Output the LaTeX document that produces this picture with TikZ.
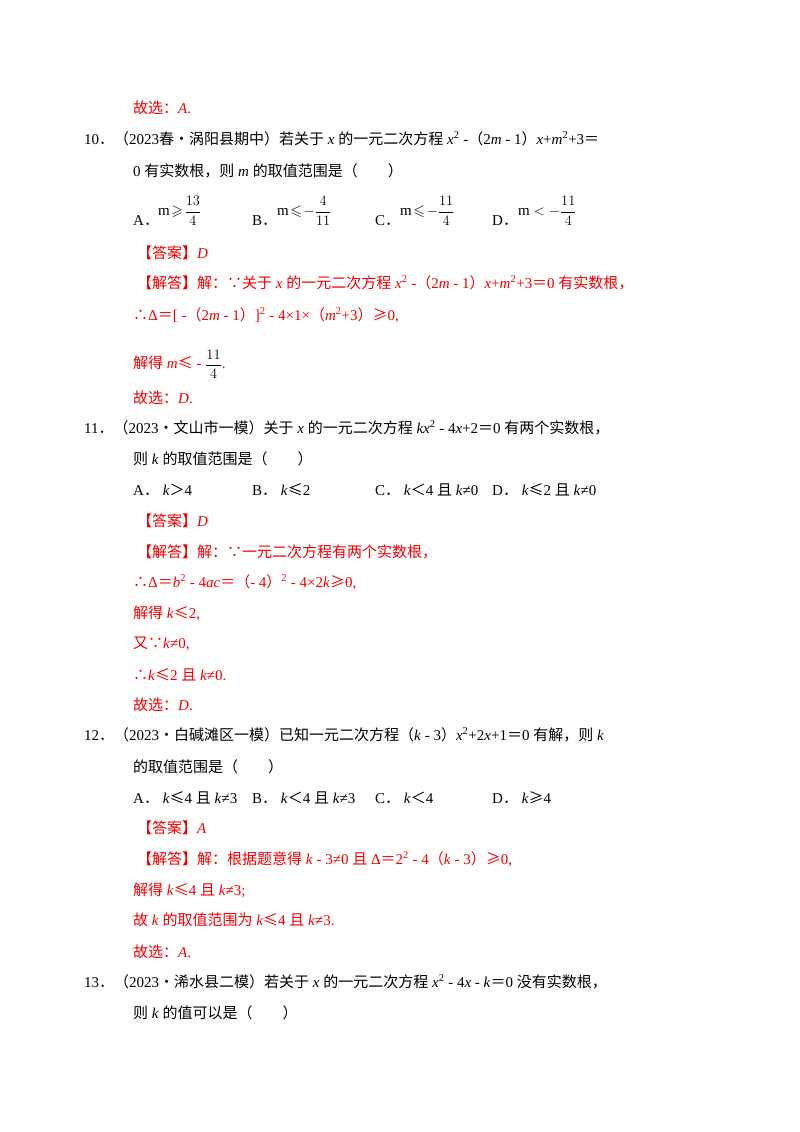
\documentclass[tikz,border=0pt]{standalone}
\usepackage{amsmath,amssymb}
\usepackage{fontspec}
\setmainfont{Liberation Serif}
\newfontfamily\cjk{Noto Sans CJK SC}
\newcommand\zh[1]{{\cjk #1}}
\newcommand\vi[1]{\textit{#1}}
\newcommand\sq{\textsuperscript{2}}
\newcommand\pd{\zh{．}}
\definecolor{ansred}{RGB}{240,0,0}
\begin{document}
\begin{tikzpicture}[x=1pt,y=-1pt,
  txt/.style={anchor=base west,inner sep=0pt,font=\fontsize{15}{17}\selectfont},
  red/.style={txt,text=ansred}]
\useasboundingbox (0,0) rectangle (800,1132);
\node[red] (a0) at (133,113) {\zh{故选：}\vi{A}.};
% Q10
\node[txt] (q10a) at (84,144) {10\pd\zh{（}2023\zh{春•涡阳县期中）若关于} \vi{x} \zh{的一元二次方程} \vi{x}\sq\ -\zh{（}2\vi{m} - 1\zh{）}\vi{x}+\vi{m}\sq+3\zh{＝}};
\node[txt] (q10b) at (133,176) {0 \zh{有实数根，则} \vi{m} \zh{的取值范围是（\quad\quad ）}};
\node[txt] (o10a) at (133,225) {A\pd};
\node[txt] (o10b) at (252,225) {B\pd};
\node[txt] (o10c) at (375,225) {C\pd};
\node[txt] (o10d) at (492,225) {D\pd};
\node[txt,anchor=west] (f10a) at (158,211) {$\mathrm{m}\!\geqslant\!\dfrac{13}{4}$};
\node[txt,anchor=west] (f10b) at (277,211) {$\mathrm{m}\!\leqslant\!-\dfrac{4}{11}$};
\node[txt,anchor=west] (f10c) at (400,211) {$\mathrm{m}\!\leqslant\!-\dfrac{11}{4}$};
\node[txt,anchor=west] (f10d) at (518,211) {$\mathrm{m}<-\dfrac{11}{4}$};
\node[red] (ans10) at (137,258) {\zh{【答案】}\vi{D}};
\node[red] (sol10) at (137,288) {\zh{【解答】解：∵关于} \vi{x} \zh{的一元二次方程} \vi{x}\sq\ -\zh{（}2\vi{m} - 1\zh{）}\vi{x}+\vi{m}\sq+3\zh{＝}0 \zh{有实数根，}};
\node[red] (d10) at (133,320) {\zh{∴}Δ\zh{＝}[ -\zh{（}2\vi{m} - 1\zh{）}]\sq\ - 4×1×\zh{（}\vi{m}\sq+3\zh{）≥}0,};
\node[red] (r10) at (133,368) {\zh{解得} \vi{m}\zh{≤} - \raisebox{-1pt}{\color{black}$\dfrac{11}{4}$}.};
\node[red] (c10) at (133,403) {\zh{故选：}\vi{D}.};
% Q11
\node[txt] (q11a) at (84,433) {11\pd\zh{（}2023\zh{•文山市一模）关于} \vi{x} \zh{的一元二次方程} \vi{kx}\sq\ - 4\vi{x}+2\zh{＝}0 \zh{有两个实数根，}};
\node[txt] (q11b) at (133,464) {\zh{则} \vi{k} \zh{的取值范围是（\quad\quad ）}};
\node[txt] (o11a) at (133,495) {A\pd\ \vi{k}\zh{＞}4};
\node[txt] (o11b) at (252,495) {B\pd\ \vi{k}\zh{≤}2};
\node[txt] (o11c) at (375,495) {C\pd\ \vi{k}\zh{＜}4 \zh{且} \vi{k}≠0};
\node[txt] (o11d) at (492,495) {D\pd\ \vi{k}\zh{≤}2 \zh{且} \vi{k}≠0};
\node[red] (ans11) at (137,526) {\zh{【答案】}\vi{D}};
\node[red] (sol11) at (137,557) {\zh{【解答】解：∵一元二次方程有两个实数根，}};
\node[red] (d11) at (133,587) {\zh{∴}Δ\zh{＝}\vi{b}\sq\ - 4\vi{ac}\zh{＝（}- 4\zh{）}\sq\ - 4×2\vi{k}\zh{≥}0,};
\node[red] (r11) at (133,618) {\zh{解得} \vi{k}\zh{≤}2,};
\node[red] (y11) at (133,648) {\zh{又∵}\vi{k}≠0,};
\node[red] (t11) at (133,680) {\zh{∴}\vi{k}\zh{≤}2 \zh{且} \vi{k}≠0.};
\node[red] (c11) at (133,710) {\zh{故选：}\vi{D}.};
% Q12
\node[txt] (q12a) at (84,740) {12\pd\zh{（}2023\zh{•白碱滩区一模）已知一元二次方程（}\vi{k} - 3\zh{）}\vi{x}\sq+2\vi{x}+1\zh{＝}0 \zh{有解，则} \vi{k}};
\node[txt] (q12b) at (133,772) {\zh{的取值范围是（\quad\quad ）}};
\node[txt] (o12a) at (133,803) {A\pd\ \vi{k}\zh{≤}4 \zh{且} \vi{k}≠3};
\node[txt] (o12b) at (252,803) {B\pd\ \vi{k}\zh{＜}4 \zh{且} \vi{k}≠3};
\node[txt] (o12c) at (375,803) {C\pd\ \vi{k}\zh{＜}4};
\node[txt] (o12d) at (492,803) {D\pd\ \vi{k}\zh{≥}4};
\node[red] (ans12) at (137,833) {\zh{【答案】}\vi{A}};
\node[red] (sol12) at (137,864) {\zh{【解答】解：根据题意得} \vi{k} - 3≠0 \zh{且} Δ\zh{＝}2\sq\ - 4\zh{（}\vi{k} - 3\zh{）≥}0,};
\node[red] (r12) at (133,895) {\zh{解得} \vi{k}\zh{≤}4 \zh{且} \vi{k}≠3;};
\node[red] (g12) at (133,925) {\zh{故} \vi{k} \zh{的取值范围为} \vi{k}\zh{≤}4 \zh{且} \vi{k}≠3.};
\node[red] (c12) at (133,957) {\zh{故选：}\vi{A}.};
% Q13
\node[txt] (q13a) at (84,987) {13\pd\zh{（}2023\zh{•浠水县二模）若关于} \vi{x} \zh{的一元二次方程} \vi{x}\sq\ - 4\vi{x} - \vi{k}\zh{＝}0 \zh{没有实数根，}};
\node[txt] (q13b) at (133,1018) {\zh{则} \vi{k} \zh{的值可以是（\quad\quad ）}};
\end{tikzpicture}
\end{document}
